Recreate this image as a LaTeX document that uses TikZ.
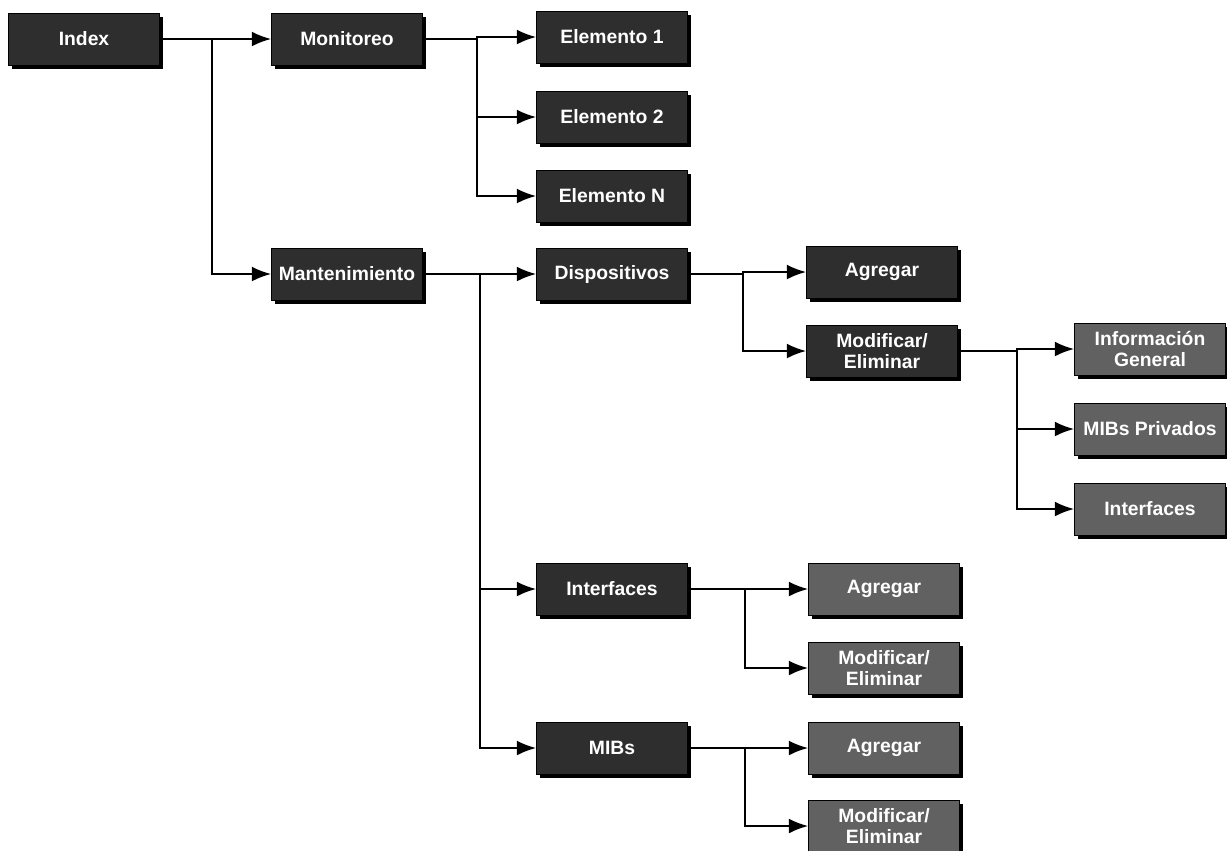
\documentclass[tikz,border=0pt]{standalone}
\usepackage{fontspec}
\newfontfamily\boxfont{Liberation Sans}
\usetikzlibrary{arrows.meta, positioning, shadows}

\begin{document}
\begin{tikzpicture}[
                x = 0.02cm, y = -0.02cm,
                menubox/.style = {
                    rectangle,
                    draw            = black,
                    fill            = black!82,
                    text            = white,
                    align           = center,
                    inner sep       = 0pt,
                    minimum width   = 3.02cm,
                    minimum height  = 1.04cm,
                    font            = \boxfont\bfseries\fontsize{11}{11.5}\selectfont,
                    drop shadow     = {shadow xshift=2pt, shadow yshift=-2pt, fill=black, opacity=1}
                },
                greybox/.style = {menubox, fill = black!62},
                bigarrow/.style = {-{Latex[length=11pt, width=8.5pt]}, line width = 1.2pt},
                plainline/.style = {line width = 1.2pt}
            ]

                \useasboundingbox (0, 0) rectangle (1227, 850);

                % first level
                \node[menubox] (index) at (84, 39)  {Index};
                \node[menubox] (mon)   at (347, 39) {Monitoreo};
                \node[menubox] (mant)  at (347, 274) {Mantenimiento};

                % monitoreo
                \node[menubox] (elem1) at (612, 37)  {Elemento 1};
                \node[menubox] (elem2) at (612, 117) {Elemento 2};
                \node[menubox] (elemN) at (612, 196) {Elemento N};

                % mantenimiento
                \node[menubox] (disp)  at (612, 274) {Dispositivos};
                \node[menubox] (inter) at (612, 589) {Interfaces};
                \node[menubox] (mibs)  at (612, 748) {MIBs};

                \node[menubox] (dispadd) at (882, 272) {Agregar};
                \node[menubox] (dispmod) at (882, 351) {Modificar/\\Eliminar};
                \node[greybox] (infogen) at (1150, 349) {Información\\General};
                \node[greybox] (mibpriv) at (1150, 429) {MIBs Privados};
                \node[greybox] (intsub)  at (1150, 509) {Interfaces};

                \node[greybox] (interadd) at (884, 589) {Agregar};
                \node[greybox] (intermod) at (884, 668) {Modificar/\\Eliminar};
                \node[greybox] (mibsadd)  at (884, 748) {Agregar};
                \node[greybox] (mibsmod)  at (884, 826) {Modificar/\\Eliminar};

                % branch points
                \coordinate (bindex) at (212, 39);
                \coordinate (bmon)   at (477, 39);
                \coordinate (bmant)  at (480, 274);
                \coordinate (bdisp)  at (743, 274);
                \coordinate (bdmod)  at (1017, 351);
                \coordinate (binter) at (745, 589);
                \coordinate (bmibs)  at (745, 748);

                % connectors
                \draw[plainline] (index.east) -- (bindex);
                \draw[bigarrow] (bindex) -- (mon.west);
                \draw[bigarrow] (bindex) |- (mant.west);

                \draw[plainline] (mon.east) -- (bmon);
                \foreach \t in {elem1, elem2, elemN}
                    \draw[bigarrow] (bmon) |- (\t.west);

                \draw[plainline] (mant.east) -- (bmant);
                \foreach \t in {disp, inter, mibs}
                    \draw[bigarrow] (bmant) |- (\t.west);

                \draw[plainline] (disp.east) -- (bdisp);
                \foreach \t in {dispadd, dispmod}
                    \draw[bigarrow] (bdisp) |- (\t.west);

                \draw[plainline] (dispmod.east) -- (bdmod);
                \foreach \t in {infogen, mibpriv, intsub}
                    \draw[bigarrow] (bdmod) |- (\t.west);

                \draw[plainline] (inter.east) -- (binter);
                \foreach \t in {interadd, intermod}
                    \draw[bigarrow] (binter) |- (\t.west);

                \draw[plainline] (mibs.east) -- (bmibs);
                \foreach \t in {mibsadd, mibsmod}
                    \draw[bigarrow] (bmibs) |- (\t.west);
            \end{tikzpicture}
\end{document}
